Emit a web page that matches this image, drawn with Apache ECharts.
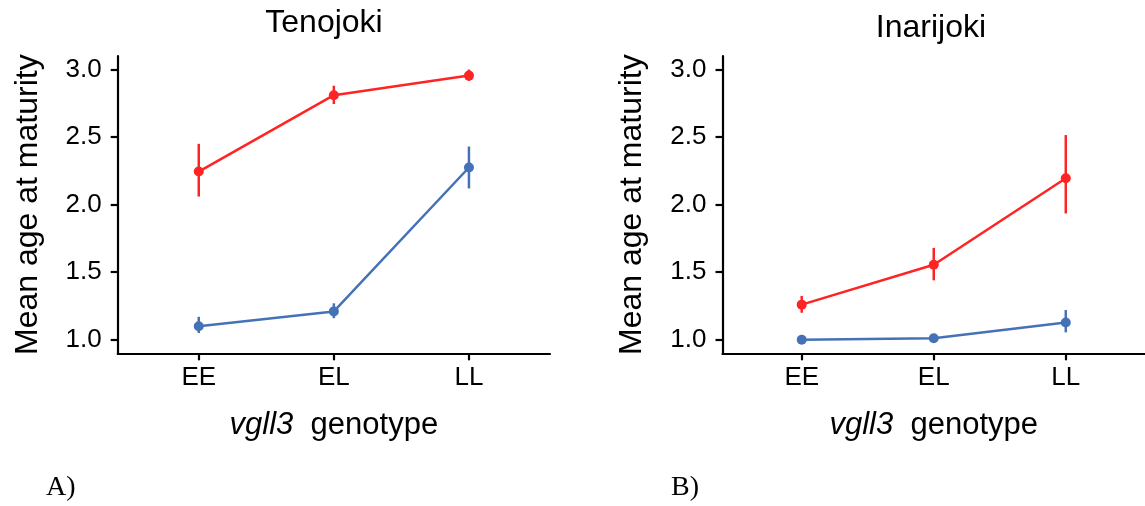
<!DOCTYPE html>
<html>
<head>
<meta charset="utf-8">
<script src="https://cdn.jsdelivr.net/npm/echarts@6/dist/echarts.min.js"></script>
<style>
html,body{margin:0;padding:0;background:#fff;}
#c{width:1145px;height:506px;}
</style>
</head>
<body>
<div id="c"></div>
<script>
const genotypes = ['EE', 'EL', 'LL'];
const yTicks = [1.0, 1.5, 2.0, 2.5, 3.0];
const panelTitles = ['Tenojoki', 'Inarijoki'];
const panelTags = ['A)', 'B)'];

// Tenojoki
const tenoRedMean = [2.245, 2.81, 2.955];
const tenoRedLo   = [2.06, 2.745, 2.915];
const tenoRedHi   = [2.45, 2.88, 3.0];
const tenoBlueMean = [1.10, 1.21, 2.275];
const tenoBlueLo   = [1.05, 1.16, 2.12];
const tenoBlueHi   = [1.17, 1.27, 2.43];

// Inarijoki
const inariRedMean = [1.26, 1.555, 2.195];
const inariRedLo   = [1.20, 1.44, 1.935];
const inariRedHi   = [1.325, 1.68, 2.515];
const inariBlueMean = [1.0, 1.012, 1.128];
const inariBlueLo   = [0.995, 1.0, 1.055];
const inariBlueHi   = [1.005, 1.025, 1.22];

const RED = '#ff2424';
const BLUE = '#4572b6';
const FONT = 'Liberation Sans, Arial, sans-serif';

const chart = echarts.init(document.getElementById('c'), null, {renderer: 'canvas'});

function pts(means) { return means.map((v, i) => [i + 1, v]); }
function errs(lo, hi) { return lo.map((l, i) => [i + 1, l, hi[i]]); }

function lineSeries(name, means, color, idx) {
  return {
    name: name, type: 'line', xAxisIndex: idx, yAxisIndex: idx,
    data: pts(means), symbol: 'circle', symbolSize: 10,
    lineStyle: {color: color, width: 2.5}, itemStyle: {color: color},
    animation: false, z: 3
  };
}
function errSeries(name, lo, hi, color, idx) {
  return {
    name: name, type: 'custom', xAxisIndex: idx, yAxisIndex: idx,
    data: errs(lo, hi), animation: false, z: 2,
    renderItem: function (params, api) {
      const p1 = api.coord([api.value(0), api.value(1)]);
      const p2 = api.coord([api.value(0), api.value(2)]);
      return {type: 'line', shape: {x1: p1[0], y1: p1[1], x2: p2[0], y2: p2[1]},
              style: {stroke: color, lineWidth: 2.5}};
    }
  };
}

function xAxis(idx) {
  return {
    type: 'value', gridIndex: idx, min: 0.4, max: 3.6,
    name: '{i|vgll3}  genotype', nameLocation: 'middle', nameGap: 57,
    nameTextStyle: {fontFamily: FONT, fontSize: 31, color: '#000',
      rich: {i: {fontFamily: FONT, fontSize: 31, fontStyle: 'italic', color: '#000'}}},
    splitLine: {show: false},
    axisLine: {show: true, onZero: false, lineStyle: {color: '#000', width: 2.2}},
    axisTick: {show: true, customValues: [1, 2, 3], length: 7, lineStyle: {color: '#000', width: 2.2}},
    axisLabel: {customValues: [1, 2, 3], margin: 12, fontFamily: FONT, fontSize: 26, color: '#000',
      formatter: v => genotypes[Math.round(v) - 1] || ''}
  };
}
function yAxis(idx) {
  return {
    type: 'value', gridIndex: idx, min: 0.9, max: 3.1,
    name: 'Mean age at maturity', nameLocation: 'middle', nameGap: 74,
    nameTextStyle: {fontFamily: FONT, fontSize: 32, color: '#000'},
    splitLine: {show: false},
    axisLine: {show: true, onZero: false, lineStyle: {color: '#000', width: 2.2}},
    axisTick: {show: true, customValues: yTicks, length: 7, lineStyle: {color: '#000', width: 2.2}},
    axisLabel: {customValues: yTicks, margin: 16, fontFamily: FONT, fontSize: 26, color: '#000',
      formatter: v => v.toFixed(1)}
  };
}

const option = {
  backgroundColor: '#fff',
  animation: false,
  title: [
    {text: panelTitles[0], left: 324, top: 7, textAlign: 'center', padding: 0,
     textStyle: {fontFamily: FONT, fontSize: 32, fontWeight: 'normal', color: '#000'}},
    {text: panelTitles[1], left: 931, top: 12, textAlign: 'center', padding: 0,
     textStyle: {fontFamily: FONT, fontSize: 32, fontWeight: 'normal', color: '#000'}}
  ],
  grid: [
    {left: 117.7, top: 56, width: 432.3, height: 297.3},
    {left: 722.5, top: 56, width: 432.3, height: 297.3}
  ],
  xAxis: [xAxis(0), xAxis(1)],
  yAxis: [yAxis(0), yAxis(1)],
  graphic: [
    {type: 'text', left: 46, top: 474, style: {text: panelTags[0], font: '28px "Liberation Serif", "Times New Roman", serif', fill: '#000'}},
    {type: 'text', left: 671, top: 474, style: {text: panelTags[1], font: '28px "Liberation Serif", "Times New Roman", serif', fill: '#000'}}
  ],
  series: [
    errSeries('Tenojoki red SE', tenoRedLo, tenoRedHi, RED, 0),
    lineSeries('Tenojoki red', tenoRedMean, RED, 0),
    errSeries('Tenojoki blue SE', tenoBlueLo, tenoBlueHi, BLUE, 0),
    lineSeries('Tenojoki blue', tenoBlueMean, BLUE, 0),
    errSeries('Inarijoki red SE', inariRedLo, inariRedHi, RED, 1),
    lineSeries('Inarijoki red', inariRedMean, RED, 1),
    errSeries('Inarijoki blue SE', inariBlueLo, inariBlueHi, BLUE, 1),
    lineSeries('Inarijoki blue', inariBlueMean, BLUE, 1)
  ]
};
chart.setOption(option);
</script>
</body>
</html>
